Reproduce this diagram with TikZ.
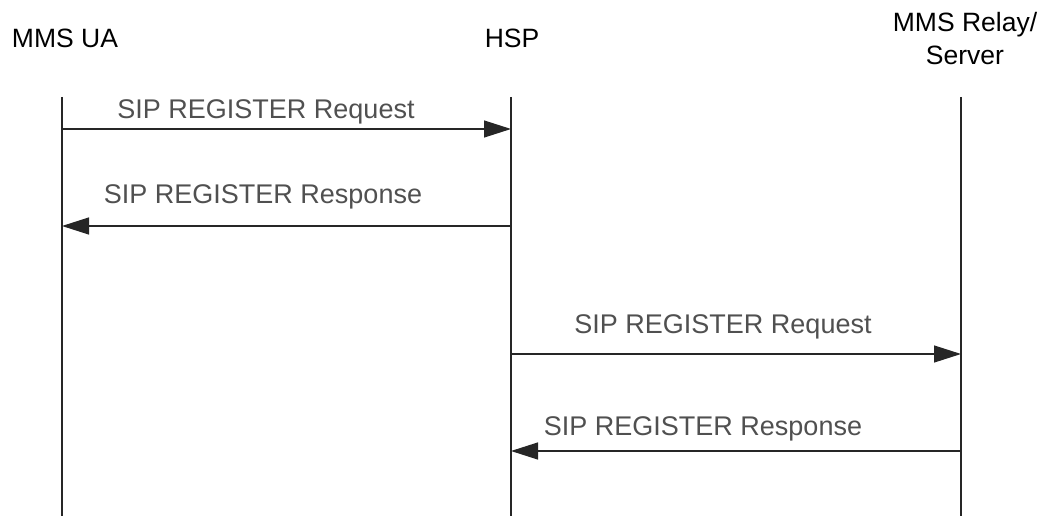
\documentclass[tikz,border=0pt]{standalone}
\usepackage{fontspec}
\setmainfont{Liberation Sans}
\usetikzlibrary{arrows.meta}
\definecolor{labelgray}{HTML}{505050}
\begin{document}
\begin{tikzpicture}[x=1pt,y=-1pt,
  header/.style={font=\fontsize{26.5}{33}\selectfont, text=black, align=center, inner sep=0pt, anchor=base},
  lifeline/.style={line width=1.3pt, draw=black!85},
  msg/.style={line width=1.3pt, draw=black!85, -{Triangle[length=27pt,width=17pt]}},
  msglabel/.style={font=\fontsize{27}{32}\selectfont, text=labelgray, inner sep=0pt, anchor=base}]
  \useasboundingbox (0,0) rectangle (1047,516);
  % participants (two-line header sits on the baseline of its last line)
  \node[header] (ua)  at (65,48)  {MMS UA};
  \node[header] (hsp) at (512,48) {HSP};
  \node[header] (mms) at (965,65) {MMS Relay/\\Server};
  % lifelines
  \coordinate (uaT) at (62,97);   \coordinate (uaB) at (62,516);
  \coordinate (hspT) at (511,97); \coordinate (hspB) at (511,516);
  \coordinate (mmsT) at (961,97); \coordinate (mmsB) at (961,516);
  \draw[lifeline] (uaT) -- (uaB);
  \draw[lifeline] (hspT) -- (hspB);
  \draw[lifeline] (mmsT) -- (mmsB);
  % message end points
  \coordinate (m1a) at (62,129);  \coordinate (m1b) at (511,129);
  \coordinate (m2a) at (511,226); \coordinate (m2b) at (62,226);
  \coordinate (m3a) at (511,354); \coordinate (m3b) at (961,354);
  \coordinate (m4a) at (961,451); \coordinate (m4b) at (511,451);
  \draw[msg] (m1a) -- (m1b);
  \draw[msg] (m2a) -- (m2b);
  \draw[msg] (m3a) -- (m3b);
  \draw[msg] (m4a) -- (m4b);
  % message labels
  \node[msglabel] (l1) at (266,119) {SIP REGISTER Request};
  \node[msglabel] (l2) at (263,204) {SIP REGISTER Response};
  \node[msglabel] (l3) at (723,333) {SIP REGISTER Request};
  \node[msglabel] (l4) at (703,435) {SIP REGISTER Response};
\end{tikzpicture}
\end{document}
